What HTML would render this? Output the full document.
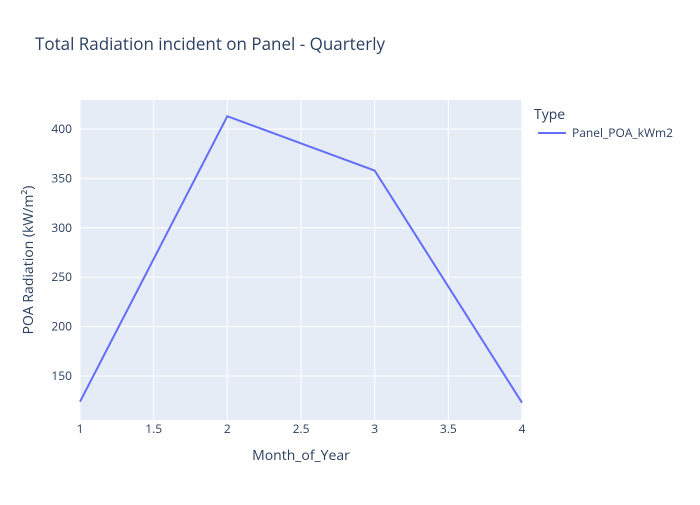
<!DOCTYPE html>
<html><head><meta charset="utf-8"><style>
body{margin:0;background:#fff;}
svg{font-family:"Open Sans","Liberation Sans",sans-serif;}
</style></head><body>
<svg id="chart" width="700" height="500" xmlns="http://www.w3.org/2000/svg">
<rect width="700" height="500" fill="#fff"/>
<text x="35" y="50" font-size="17" fill="#2a3f5f">Total Radiation incident on Panel - Quarterly</text>
<rect x="80" y="100" width="442" height="320" fill="#e5ecf6"/>
<g id="grid"></g>
<g id="ticks"></g>
<path id="line" fill="none" stroke="#636efa" stroke-width="2"/>
<text x="301" y="460" font-size="14" fill="#2a3f5f" text-anchor="middle">Month_of_Year</text>
<text transform="translate(33,260) rotate(-90)" font-size="14" fill="#2a3f5f" text-anchor="middle">POA Radiation (kW/m²)</text>
<text x="534" y="119" font-size="14" fill="#2a3f5f">Type</text>
<g>
<line x1="538" y1="133" x2="566" y2="133" stroke="#636efa" stroke-width="2"/>
<text x="572" y="137" font-size="12" fill="#2a3f5f">Panel_POA_kWm2</text>
</g>
</svg>
<script>
const months = [1, 2, 3, 4];
const values = [124, 413, 358, 123];
const xTicks = [1, 1.5, 2, 2.5, 3, 3.5, 4];
const yTicks = [150, 200, 250, 300, 350, 400];
const NS = "http://www.w3.org/2000/svg";
const x0 = 80, x1 = 522, y0 = 420, y1 = 100;
const xMin = 1, xMax = 4, yMin = 105.5, yMax = 429.4;
function xs(v){return x0 + (v - xMin) / (xMax - xMin) * (x1 - x0);}
function ys(v){return y0 - (v - yMin) / (yMax - yMin) * (y0 - y1);}
const grid = document.getElementById('grid'), ticks = document.getElementById('ticks');
xTicks.forEach(t => {
  const l = document.createElementNS(NS, 'line');
  l.setAttribute('x1', xs(t)); l.setAttribute('x2', xs(t));
  l.setAttribute('y1', y1); l.setAttribute('y2', y0);
  l.setAttribute('stroke', '#fff'); l.setAttribute('stroke-width', '1');
  
  
  grid.appendChild(l);
  const tx = document.createElementNS(NS, 'text');
  tx.setAttribute('x', xs(t)); tx.setAttribute('y', 433);
  tx.setAttribute('font-size', '12'); tx.setAttribute('fill', '#2a3f5f');
  tx.setAttribute('text-anchor', 'middle');
  tx.textContent = String(t);
  
  
  ticks.appendChild(tx);
});
yTicks.forEach(t => {
  const l = document.createElementNS(NS, 'line');
  l.setAttribute('x1', x0); l.setAttribute('x2', x1);
  l.setAttribute('y1', ys(t)); l.setAttribute('y2', ys(t));
  l.setAttribute('stroke', '#fff'); l.setAttribute('stroke-width', '1');
  
  
  grid.appendChild(l);
  const tx = document.createElementNS(NS, 'text');
  tx.setAttribute('x', 72); tx.setAttribute('y', ys(t) + 4);
  tx.setAttribute('font-size', '12'); tx.setAttribute('fill', '#2a3f5f');
  tx.setAttribute('text-anchor', 'end');
  tx.textContent = String(t);
  
  
  ticks.appendChild(tx);
});
document.getElementById('line').setAttribute('d',
  months.map((m, i) => (i ? 'L' : 'M') + xs(m) + ',' + ys(values[i])).join(' '));
</script>
</body></html>
